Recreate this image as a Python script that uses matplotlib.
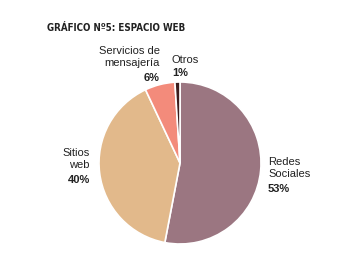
import matplotlib
matplotlib.use('Agg')
import matplotlib.pyplot as plt

matplotlib.rcParams['font.family'] = 'Liberation Sans'

categories = ['Redes\nSociales', 'Sitios\nweb', 'Servicios de\nmensajería', 'Otros']
values = [53, 40, 6, 1]
colors = ['#9b7681', '#e2b98b', '#f38b7b', '#3b1c1c']

fig = plt.figure(figsize=(3.5, 2.77), dpi=100)
ax = fig.add_axes([0, 0, 1, 1])

# y axis runs downward, so counterclock in data = clockwise on screen
wedges, _ = ax.pie(values, colors=colors, startangle=-90, counterclock=True,
                   center=(180, 163), radius=81,
                   wedgeprops=dict(edgecolor='white', linewidth=1.2))
ax.set_xlim(0, 350)
ax.set_ylim(277, 0)
ax.set_aspect('equal')
ax.axis('off')

fig.text(47 / 350, 1 - 28 / 277, 'GRÁFICO Nº5: ESPACIO WEB', fontsize=7,
         fontweight='bold', family='DejaVu Sans', fontstretch='condensed',
         color='#222222', va='center', ha='left')

# label positions (name block, percent below)
label_pos = [(268, 157, 'left'), (90, 148, 'right'), (160, 46, 'right'), (172, 55, 'left')]
for name, v, (x, y, ha) in zip(categories, values, label_pos):
    n_lines = name.count('\n') + 1
    ax.text(x, y, name, fontsize=8, color='#222222', ha=ha, va='top',
            linespacing=1.3, multialignment=ha)
    ax.text(x, y + 13.5 * n_lines, f'{v}%', fontsize=8, fontweight='bold',
            color='#222222', ha=ha, va='top')

fig.savefig('out.png', dpi=100)
